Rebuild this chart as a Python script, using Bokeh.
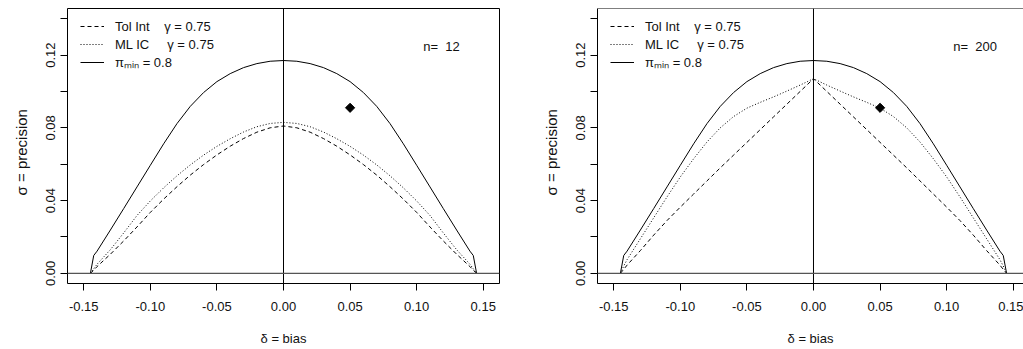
import math
from bokeh.plotting import figure
from bokeh.models import (Range1d, FixedTicker, Span, Label, Legend, LegendItem,
                          NumeralTickFormatter)
from bokeh.layouts import row
from bokeh.embed import file_html
from bokeh.resources import INLINE

# ---------------- data ----------------
delta = [-0.145, -0.1425, -0.14, -0.13, -0.12, -0.11, -0.10, -0.09, -0.08, -0.07,
         -0.06, -0.05, -0.04, -0.03, -0.02, -0.01, 0.0, 0.01, 0.02, 0.03, 0.04,
         0.05, 0.06, 0.07, 0.08, 0.09, 0.10, 0.11, 0.12, 0.13, 0.14, 0.1425, 0.145]

# pi_min = 0.8 boundary (same in both panels)
pimin_sigma = [0.0, 0.0098, 0.0122, 0.0238, 0.0356, 0.0475, 0.0594, 0.0712, 0.0823,
               0.0918, 0.0994, 0.1054, 0.1098, 0.1131, 0.1153, 0.1166, 0.1170,
               0.1166, 0.1153, 0.1131, 0.1098, 0.1054, 0.0994, 0.0918, 0.0823,
               0.0712, 0.0594, 0.0475, 0.0356, 0.0238, 0.0122, 0.0098, 0.0]

# n = 12
tolint_12 = [0.0, 0.0017, 0.0037, 0.0105, 0.0178, 0.0255, 0.0335, 0.0408, 0.0476,
             0.0540, 0.0598, 0.0651, 0.0699, 0.0741, 0.0776, 0.0800, 0.0810,
             0.0800, 0.0776, 0.0741, 0.0699, 0.0651, 0.0598, 0.0540, 0.0476,
             0.0408, 0.0335, 0.0255, 0.0178, 0.0105, 0.0037, 0.0017, 0.0]
mlic_12 = [0.0, 0.0025, 0.0050, 0.0130, 0.0222, 0.0318, 0.0398, 0.0470, 0.0536,
           0.0596, 0.0650, 0.0698, 0.0740, 0.0777, 0.0806, 0.0824, 0.0830,
           0.0824, 0.0806, 0.0777, 0.0740, 0.0698, 0.0650, 0.0596, 0.0536,
           0.0470, 0.0398, 0.0318, 0.0222, 0.0130, 0.0050, 0.0025, 0.0]

# n = 200
tolint_200 = [0.0, 0.0022, 0.0045, 0.0125, 0.0210, 0.0290, 0.0364, 0.0436, 0.0508,
              0.0580, 0.0650, 0.0720, 0.0790, 0.0860, 0.0930, 0.1000, 0.1070,
              0.1000, 0.0930, 0.0860, 0.0790, 0.0720, 0.0650, 0.0580, 0.0508,
              0.0436, 0.0364, 0.0290, 0.0210, 0.0125, 0.0045, 0.0022, 0.0]
mlic_200 = [0.0, 0.0040, 0.0075, 0.0190, 0.0305, 0.0420, 0.0530, 0.0630, 0.0722,
            0.0800, 0.0862, 0.0908, 0.0940, 0.0970, 0.1002, 0.1035, 0.1070,
            0.1035, 0.1002, 0.0970, 0.0940, 0.0908, 0.0862, 0.0800, 0.0722,
            0.0630, 0.0530, 0.0420, 0.0305, 0.0190, 0.0075, 0.0040, 0.0]

point_delta = [0.05]
point_sigma = [0.091]

x_ticks = [-0.15, -0.10, -0.05, 0.0, 0.05, 0.10, 0.15]
y_ticks = [0.0, 0.04, 0.08, 0.12]
y_minor_ticks = [0.02, 0.06, 0.10, 0.14]

panels = [
    {"n_text": "n=\u00a0 12", "tolint": tolint_12, "mlic": mlic_12},
    {"n_text": "n=\u00a0 200", "tolint": tolint_200, "mlic": mlic_200},
]

FONT = "Liberation Sans"
FS = "13px"


def make_panel(cfg, width, x_end, right_clipped):
    p = figure(width=width, height=349, output_backend="svg", toolbar_location=None,
               x_range=Range1d(-0.1622, x_end), y_range=Range1d(-0.0056, 0.1456),
               min_border_left=67, min_border_right=(0 if right_clipped else 31),
               min_border_top=8, min_border_bottom=66)
    p.grid.visible = False
    p.background_fill_color = "white"
    p.border_fill_color = "white"

    if right_clipped:
        p.outline_line_color = None
        p.add_layout(Span(location=0.1456, dimension="width", line_color="black",
                          line_width=1))
    else:
        p.outline_line_color = "black"
        p.outline_line_alpha = 1.0
        p.outline_line_width = 1

    # axes
    xa = p.xaxis[0]
    xa.ticker = FixedTicker(ticks=x_ticks)
    xa.formatter = NumeralTickFormatter(format="0.00")
    xa.axis_label = "δ = bias"
    ya = p.yaxis[0]
    ya.ticker = FixedTicker(ticks=y_ticks, minor_ticks=y_minor_ticks)
    ya.formatter = NumeralTickFormatter(format="0.00")
    ya.axis_label = "σ = precision\u00a0\u00a0\u00a0"
    ya.major_label_orientation = "vertical"
    for ax in (xa, ya):
        ax.axis_line_color = "black" if right_clipped else None
        ax.major_tick_line_color = "black"
        ax.major_tick_out = 7
        ax.major_tick_in = 0
        ax.minor_tick_line_color = "black"
        ax.minor_tick_out = 7
        ax.minor_tick_in = 0
        ax.major_label_text_font = FONT
        ax.major_label_text_font_size = FS
        ax.major_label_text_color = "#111111"
        ax.axis_label_text_font = FONT
        ax.axis_label_text_font_size = FS
        ax.axis_label_text_font_style = "normal"
        ax.axis_label_text_color = "#111111"
    ya.axis_label_text_font_size = "15px"
    xa.major_label_standoff = 11
    xa.axis_label_standoff = 17
    ya.major_label_standoff = 5
    ya.axis_label_standoff = 14

    # reference lines
    p.add_layout(Span(location=0, dimension="height", line_color="black", line_width=1))
    p.add_layout(Span(location=0, dimension="width", line_color="#555555",
                      line_width=1.3))

    r_tol = p.line(delta, cfg["tolint"], line_color="black", line_width=1,
                   line_dash="4 3")
    r_ml = p.line(delta, cfg["mlic"], line_color="black", line_width=1,
                  line_dash="1 2")
    r_pi = p.line(delta, pimin_sigma, line_color="black", line_width=1)

    p.scatter(point_delta, point_sigma, marker="square", angle=math.pi / 4, size=6.5,
              fill_color="black", line_color="black")

    p.add_layout(Label(x=0.105, y=0.1245, text=cfg["n_text"], text_align="left",
                       text_baseline="middle", text_font=FONT, text_font_size=FS,
                       text_color="#111111"))

    legend = Legend(items=[
        LegendItem(label="Tol Int\u00a0\u00a0\u00a0 γ = 0.75", renderers=[r_tol]),
        LegendItem(label="ML IC\u00a0\u00a0\u00a0\u00a0 γ = 0.75", renderers=[r_ml]),
        LegendItem(label="πₘᵢₙ = 0.8", renderers=[r_pi]),
    ], location=(13, 212))
    legend.border_line_color = None
    legend.background_fill_alpha = 0
    legend.padding = 0
    legend.margin = 0
    legend.spacing = 0
    legend.glyph_width = 24
    legend.glyph_height = 18
    legend.label_height = 18
    legend.label_standoff = 11
    legend.label_text_font = FONT
    legend.label_text_font_size = FS
    legend.label_text_color = "#111111"
    p.add_layout(legend)
    return p


p1 = make_panel(panels[0], 530, 0.1622, False)
p2 = make_panel(panels[1], 493, 0.1577, True)

layout = row(p1, p2)
open("out.html", "w").write(file_html(layout, INLINE))
